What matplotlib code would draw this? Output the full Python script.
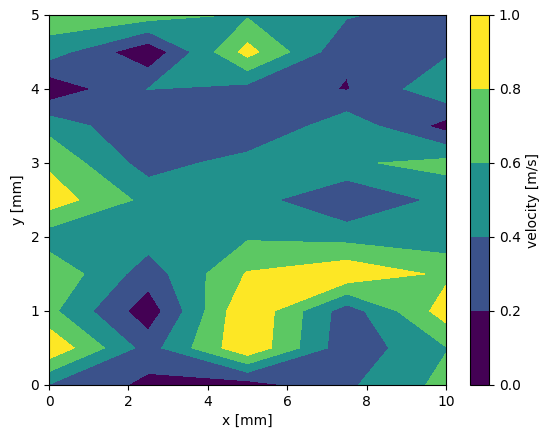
import numpy as np
import matplotlib
matplotlib.use("Agg")
import matplotlib.pyplot as plt

# grid coordinates
x_mm = [0.0, 2.5, 5.0, 7.5, 10.0]
y_mm = [0.0, 0.5, 1.0, 1.5, 2.0, 2.5, 3.0, 3.5, 4.0, 4.5, 5.0]

# velocity values, one list per row (y), columns follow x_mm
v_y00 = [0.39, 0.15, 0.10, 0.365, 0.66]
v_y05 = [0.966, 0.31, 0.97, 0.26, 0.59]
v_y10 = [0.653, 0.08, 0.99, 0.29, 0.90]
v_y15 = [0.765, 0.295, 0.817, 0.96, 0.757]
v_y20 = [0.49, 0.49, 0.576, 0.53, 0.47]
v_y25 = [0.913, 0.54, 0.49, 0.199, 0.46]
v_y30 = [0.764, 0.31, 0.486, 0.57, 0.665]
v_y35 = [0.536, 0.212, 0.198, 0.53, 0.125]
v_y40 = [0.045, 0.405, 0.326, 0.188, 0.557]
v_y45 = [0.50, 0.04, 0.875, 0.228, 0.37]
v_y50 = [0.717, 0.70, 0.576, 0.42, 0.30]

levels = [0.0, 0.2, 0.4, 0.6, 0.8, 1.0]

V = np.array([v_y00, v_y05, v_y10, v_y15, v_y20, v_y25,
              v_y30, v_y35, v_y40, v_y45, v_y50])
X, Y = np.meshgrid(x_mm, y_mm)

fig = plt.figure(figsize=(5.49, 4.38), dpi=100)
ax = fig.add_axes([49/549, 53/438, 397/549, 370/438])
cax = fig.add_axes([470/549, 53/438, 19/549, 370/438])

# layer midpoints 0.1..0.9 map onto the full viridis range
cs = ax.contourf(X, Y, V, levels=levels, cmap="viridis", vmin=0.1, vmax=0.9)
cb = fig.colorbar(cs, cax=cax)
cb.set_label("velocity [m/s]")
ax.set_xlabel("x [mm]")
ax.set_ylabel("y [mm]")

fig.savefig("out.png", dpi=100)
